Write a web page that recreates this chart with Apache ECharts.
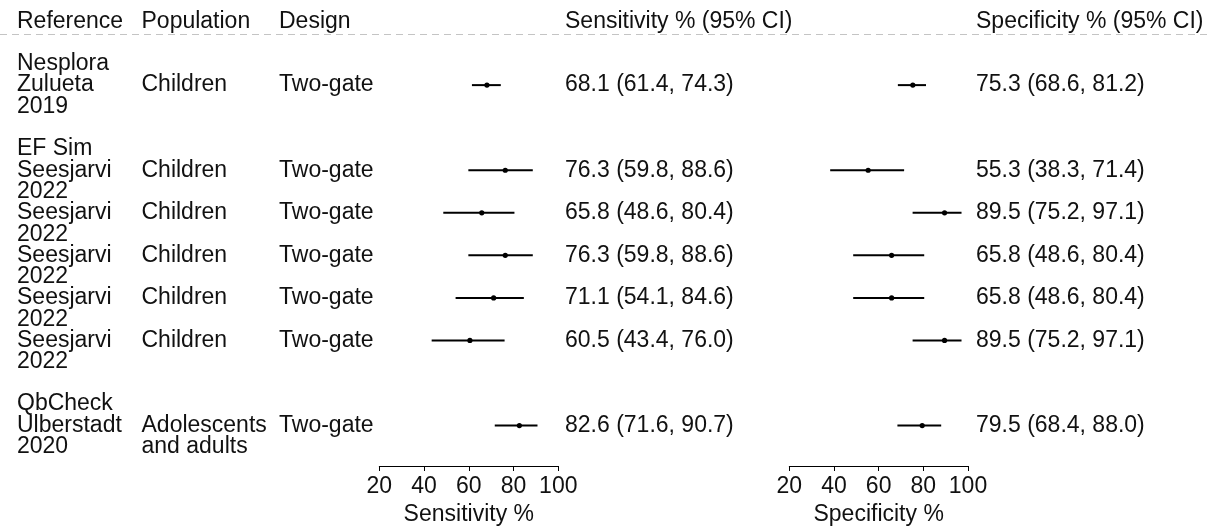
<!DOCTYPE html>
<html><head><meta charset="utf-8">
<script src="https://cdn.jsdelivr.net/npm/echarts@6/dist/echarts.min.js"></script>
<style>html,body{margin:0;padding:0;background:#fff}#c{width:1220px;height:530px}</style>
</head><body><div id="c"></div>
<script>
// ---- data ----
const headers = ['Reference', 'Population', 'Design', 'Sensitivity % (95% CI)', 'Specificity % (95% CI)'];
const tools = ['Nesplora', 'EF Sim', '', '', '', '', 'QbCheck'];
const authors = ['Zulueta', 'Seesjarvi', 'Seesjarvi', 'Seesjarvi', 'Seesjarvi', 'Seesjarvi', 'Ulberstadt'];
const years = ['2019', '2022', '2022', '2022', '2022', '2022', '2020'];
const populations = ['Children', 'Children', 'Children', 'Children', 'Children', 'Children', 'Adolescents\nand adults'];
const designs = ['Two-gate', 'Two-gate', 'Two-gate', 'Two-gate', 'Two-gate', 'Two-gate', 'Two-gate'];
const rowIndex = [0, 2, 3, 4, 5, 6, 8];
const sens   = [68.1, 76.3, 65.8, 76.3, 71.1, 60.5, 82.6];
const sensLo = [61.4, 59.8, 48.6, 59.8, 54.1, 43.4, 71.6];
const sensHi = [74.3, 88.6, 80.4, 88.6, 84.6, 76.0, 90.7];
const spec   = [75.3, 55.3, 89.5, 65.8, 65.8, 89.5, 79.5];
const specLo = [68.6, 38.3, 75.2, 48.6, 48.6, 75.2, 68.4];
const specHi = [81.2, 71.4, 97.1, 80.4, 80.4, 97.1, 88.0];
const axisTicks = [20, 40, 60, 80, 100];
const axisNames = ['Sensitivity %', 'Specificity %'];

// ---- layout / style ----
const FONT = '"Liberation Sans", Arial, Helvetica, sans-serif';
const FS = 23;
const LH = 21.5;
const TXT = '#111';
const colX = [17, 141.5, 279, 565, 976];
const headerRow = -1.5;
const sepRow = -1.2;
const yMin = -2, yMax = 8.95;

const fmt = (v, lo, hi) => v.toFixed(1) + ' (' + lo.toFixed(1) + ', ' + hi.toFixed(1) + ')';

function textEl(x, y, s) {
  return { type: 'text', x: x, y: y, style: { text: s, font: FS + 'px ' + FONT, fill: TXT, textAlign: 'left', textVerticalAlign: 'middle' } };
}

const chart = echarts.init(document.getElementById('c'), null, { renderer: 'canvas' });

function forestAxis(idx) {
  return {
    gridIndex: idx, type: 'value', min: axisTicks[0], max: axisTicks[axisTicks.length - 1],
    interval: axisTicks[1] - axisTicks[0], position: 'bottom',
    axisLine: { show: true, onZero: false, lineStyle: { color: '#000', width: 1 } },
    axisTick: { show: true, length: 5, inside: false, lineStyle: { color: '#000', width: 1 } },
    axisLabel: { show: true, fontSize: FS, color: TXT, fontFamily: FONT, margin: 9, showMinLabel: true, showMaxLabel: true },
    splitLine: { show: false },
    name: axisNames[idx], nameLocation: 'middle', nameGap: 36,
    nameTextStyle: { fontSize: FS, color: TXT, fontFamily: FONT }
  };
}
function hiddenY(idx) {
  return { gridIndex: idx, type: 'value', min: yMin, max: yMax, inverse: true, show: false };
}
function forestSeries(idx, est, lo, hi) {
  return {
    type: 'custom', xAxisIndex: idx, yAxisIndex: idx, clip: false,
    data: rowIndex.map((r, i) => [lo[i], hi[i], est[i], r]),
    encode: { x: [0, 1, 2], y: 3 },
    renderItem: function (params, api) {
      const y = api.value(3);
      const p1 = api.coord([api.value(0), y]);
      const p2 = api.coord([api.value(1), y]);
      const pc = api.coord([api.value(2), y]);
      return {
        type: 'group', children: [
          { type: 'line', shape: { x1: p1[0], y1: p1[1], x2: p2[0], y2: p2[1] }, style: { stroke: '#000', lineWidth: 2 } },
          { type: 'circle', shape: { cx: pc[0], cy: pc[1], r: 2.6 }, style: { fill: '#000' } }
        ]
      };
    }
  };
}

const option = {
  backgroundColor: '#fff',
  animation: false,
  grid: [
    { left: 379.3, width: 179, top: 0, height: 466, outerBoundsMode: 'none', containLabel: false },
    { left: 789.3, width: 178.7, top: 0, height: 466, outerBoundsMode: 'none', containLabel: false },
    { left: 0, width: 1220, top: 0, height: 466, outerBoundsMode: 'none', containLabel: false }
  ],
  xAxis: [
    forestAxis(0), forestAxis(1),
    { gridIndex: 2, type: 'value', min: 0, max: 1220, show: false }
  ],
  yAxis: [hiddenY(0), hiddenY(1), hiddenY(2)],
  series: [
    forestSeries(0, sens, sensLo, sensHi),
    forestSeries(1, spec, specLo, specHi),
    {
      // header row + dashed separator
      type: 'custom', xAxisIndex: 2, yAxisIndex: 2, clip: false, silent: true,
      data: [[0, headerRow]],
      encode: { x: 0, y: 1 },
      renderItem: function (params, api) {
        const y = api.coord([0, api.value(1)])[1];
        return { type: 'group', children: headers.map((h, k) => textEl(api.coord([colX[k], 0])[0], y, h)) };
      },
      markLine: {
        silent: true, symbol: ['none', 'none'], label: { show: false },
        lineStyle: { color: '#c4c4c4', width: 1, type: [7, 5] },
        data: [[{ coord: [0, sepRow] }, { coord: [1212, sepRow] }]]
      }
    },
    {
      // text columns
      type: 'custom', xAxisIndex: 2, yAxisIndex: 2, clip: false, silent: true,
      data: rowIndex.map((r, i) => [0, r, i]),
      encode: { x: 0, y: 1 },
      renderItem: function (params, api) {
        const i = api.value(2);
        const y = api.coord([0, api.value(1)])[1];
        const px = k => api.coord([colX[k], 0])[0];
        const ch = [];
        const refLines = [tools[i], authors[i], years[i]];
        refLines.forEach((s, k) => { if (s) ch.push(textEl(px(0), y + (k - 1) * LH, s)); });
        populations[i].split('\n').forEach((s, k) => ch.push(textEl(px(1), y + k * LH, s)));
        ch.push(textEl(px(2), y, designs[i]));
        ch.push(textEl(px(3), y, fmt(sens[i], sensLo[i], sensHi[i])));
        ch.push(textEl(px(4), y, fmt(spec[i], specLo[i], specHi[i])));
        return { type: 'group', children: ch };
      }
    }
  ]
};
chart.setOption(option);
</script>
</body></html>
